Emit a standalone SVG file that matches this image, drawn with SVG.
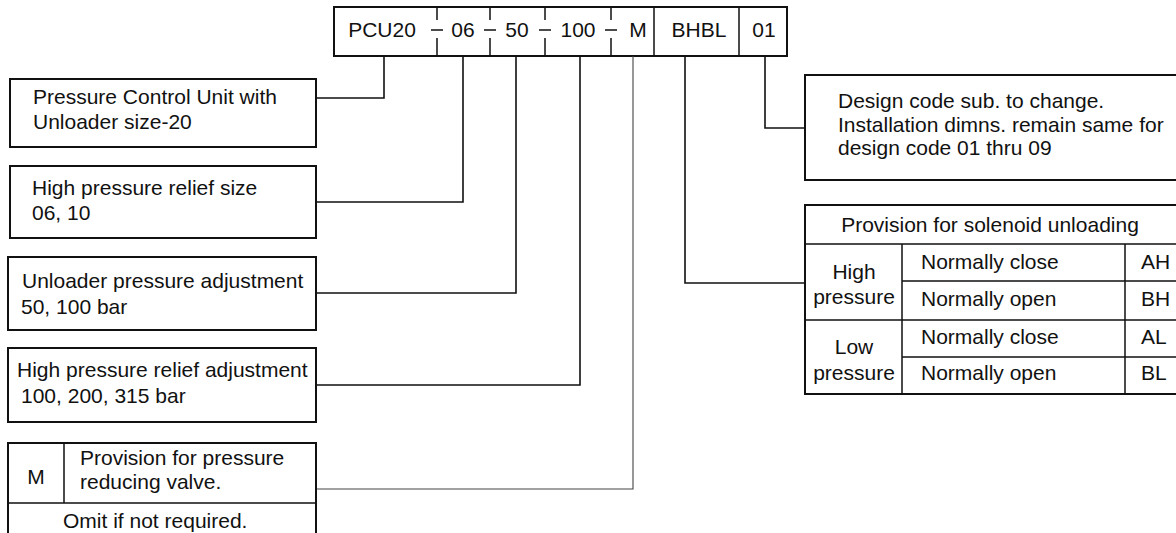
<svg xmlns="http://www.w3.org/2000/svg" width="1176" height="533" viewBox="0 0 1176 533">
<style>
text{font-family:"Liberation Sans",Arial,Helvetica,sans-serif;font-size:21px;fill:#111}
.b{fill:#fff;stroke:#111;stroke-width:2}
.d{fill:none;stroke:#111;stroke-width:1.5}
.c{fill:none;stroke:#111;stroke-width:1.6}
.m{text-anchor:middle}
</style>
<rect width="1176" height="533" fill="#fff"/>
<g id="code">
<rect class="b" x="334" y="7" width="453" height="49"/>
<path class="d" d="M437 7V20M431 30H443M437 38V56M490 7V20M484 30H496M490 38V56M545 7V20M539 30H551M545 38V56M611 7V20M605 30H617M611 38V56M654 7V56M739 7V56"/>
<text class="m" x="382" y="37">PCU20</text>
<text class="m" x="463" y="37">06</text>
<text class="m" x="517" y="37">50</text>
<text class="m" x="578" y="37">100</text>
<text class="m" x="638" y="37">M</text>
<text class="m" x="699" y="37">BHBL</text>
<text class="m" x="764" y="37">01</text>
</g>
<g id="connectors">
<path class="c" d="M384 56V98H316"/>
<path class="c" d="M463 56V202H316"/>
<path class="c" d="M516 56V293H316"/>
<path class="c" d="M580 56V385H316"/>
<path fill="none" stroke="#444" stroke-width="1.1" d="M633 56V489H316"/>
<path class="c" d="M685 56V283H805"/>
<path class="c" d="M765 56V128H805"/>
</g>
<g id="n1">
<rect class="b" x="10" y="79" width="306" height="68"/>
<text x="33" y="104">Pressure Control Unit with</text>
<text x="33" y="129">Unloader size-20</text>
</g>
<g id="n2">
<rect class="b" x="10" y="166" width="306" height="72"/>
<text x="32" y="195">High pressure relief size</text>
<text x="32" y="220">06, 10</text>
</g>
<g id="n3">
<rect class="b" x="8" y="257" width="308" height="73"/>
<text x="22" y="288">Unloader pressure adjustment</text>
<text x="21" y="314">50, 100 bar</text>
</g>
<g id="n4">
<rect class="b" x="8" y="348" width="308" height="74"/>
<text x="17" y="377">High pressure relief adjustment</text>
<text x="21" y="403">100, 200, 315 bar</text>
</g>
<g id="n5">
<rect class="b" x="8" y="443" width="308" height="100"/>
<path class="d" d="M64 443V503M8 503H316"/>
<text class="m" x="36" y="484">M</text>
<text x="80" y="465">Provision for pressure</text>
<text x="80" y="489">reducing valve.</text>
<text x="63" y="528">Omit if not required.</text>
</g>
<g id="n6">
<rect class="b" x="805" y="75" width="380" height="105"/>
<text x="838" y="108">Design code sub. to change.</text>
<text x="838" y="132">Installation dimns. remain same for</text>
<text x="838" y="155">design code 01 thru 09</text>
</g>
<g id="n7">
<rect class="b" x="805" y="205" width="380" height="189"/>
<path class="d" d="M805 244H1176M805 320H1176M902 281H1176M902 357H1176M902 244V394M1125 244V394"/>
<text class="m" x="990" y="232">Provision for solenoid unloading</text>
<text class="m" x="854" y="279">High</text>
<text class="m" x="854" y="304">pressure</text>
<text class="m" x="854" y="354">Low</text>
<text class="m" x="854" y="380">pressure</text>
<text x="921" y="269">Normally close</text>
<text x="921" y="306">Normally open</text>
<text x="921" y="344">Normally close</text>
<text x="921" y="380">Normally open</text>
<text x="1141" y="269">AH</text>
<text x="1141" y="306">BH</text>
<text x="1141" y="344">AL</text>
<text x="1141" y="380">BL</text>
</g>
</svg>
